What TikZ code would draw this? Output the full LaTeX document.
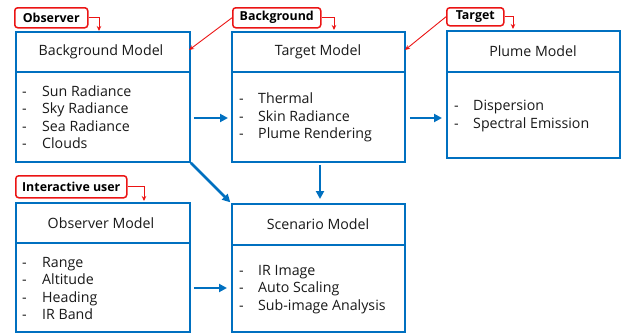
\documentclass[tikz,border=0pt]{standalone}
\usepackage{fontspec}
\setmainfont{Open Sans}
\usetikzlibrary{arrows.meta,calc}
\definecolor{mblue}{RGB}{0,112,192}
\definecolor{mred}{RGB}{235,20,20}
\definecolor{mtext}{RGB}{25,25,25}
\begin{document}
\begin{tikzpicture}[x=1pt,y=-1pt,
 modelbox/.style={draw=mblue, line width=1.8pt, anchor=north west, inner sep=0pt, fill=white},
 header/.style={font=\fontsize{14.2}{16}\selectfont, text=mtext, inner sep=0pt},
 items/.style={font=\fontsize{14.2}{17.5}\selectfont, align=left, anchor=west, inner sep=0pt, text=mtext},
 tag/.style={draw=mred, line width=1.5pt, rounded corners=3pt, fill=white, font=\bfseries\fontsize{12.4}{14}\selectfont, inner sep=0pt, anchor=north west, text=black},
 tagline/.style={draw=mred, line width=0.9pt, -{Stealth[length=5pt,width=4.5pt]}},
 flow/.style={draw=mblue, line width=2.5pt, -{Triangle[length=8pt,width=8pt]}},
 divider/.style={draw=mblue, line width=1.8pt}
]
\useasboundingbox (0,0) rectangle (621,332);

% model boxes
\node[modelbox, minimum width=174pt, minimum height=130pt] (bg) at (15,31) {};
\node[modelbox, minimum width=173pt, minimum height=130pt] (tg) at (231,31) {};
\node[modelbox, minimum width=173pt, minimum height=127pt] (pl) at (446,30) {};
\node[modelbox, minimum width=174pt, minimum height=129pt] (ob) at (15,202) {};
\node[modelbox, minimum width=173pt, minimum height=128pt] (sc) at (231,203) {};

% dividers
\draw[divider] ($(bg.north west)+(0,41)$) -- ($(bg.north east)+(0,41)$);
\draw[divider] ($(tg.north west)+(0,41)$) -- ($(tg.north east)+(0,41)$);
\draw[divider] ($(pl.north west)+(0,42)$) -- ($(pl.north east)+(0,42)$);
\draw[divider] ($(ob.north west)+(0,41)$) -- ($(ob.north east)+(0,41)$);
\draw[divider] ($(sc.north west)+(0,42)$) -- ($(sc.north east)+(0,42)$);

% headers
\node[header] (bgh) at (101,52) {Background Model};
\node[header] (tgh) at (318,52) {Target Model};
\node[header] (plh) at (533,51) {Plume Model};
\node[header] (obh) at (101,223) {Observer Model};
\node[header] (sch) at (318,224) {Scenario Model};

% items
\node[items] (bgi) at (22,117) {\makebox[20pt][l]{-}Sun Radiance\\\makebox[20pt][l]{-}Sky Radiance\\\makebox[20pt][l]{-}Sea Radiance\\\makebox[20pt][l]{-}Clouds};
\node[items] (tgi) at (239,117.5) {\makebox[19pt][l]{-}Thermal\\\makebox[19pt][l]{-}Skin Radiance\\\makebox[19pt][l]{-}Plume Rendering};
\node[items] (pli) at (454,116) {\makebox[19pt][l]{-}Dispersion\\\makebox[19pt][l]{-}Spectral Emission};
\node[items] (obi) at (22,288.5) {\makebox[20pt][l]{-}Range\\\makebox[20pt][l]{-}Altitude\\\makebox[20pt][l]{-}Heading\\\makebox[20pt][l]{-}IR Band};
\node[items] (sci) at (239,289.5) {\makebox[19pt][l]{-}IR Image\\\makebox[19pt][l]{-}Auto Scaling\\\makebox[19pt][l]{-}Sub-image Analysis};

% tags
\node[tag, minimum width=73pt, minimum height=20pt] (lobs) at (14,7) {Observer};
\node[tag, minimum width=88pt, minimum height=20pt] (lbg) at (232,7) {Background};
\node[tag, minimum width=57pt, minimum height=18pt] (ltg) at (446,7) {Target};
\node[tag, minimum width=111pt, minimum height=22pt] (lint) at (15,175) {Interactive user};

% tag connector ends
\coordinate (e1) at (99,31);
\coordinate (e2) at (334,30);
\coordinate (e3) at (513,29);
\coordinate (e4) at (144,201);
\coordinate (e5) at (189,50);
\coordinate (e6) at (405,50);

\draw[tagline] (lobs.east) -| (e1);
\draw[tagline] (lbg.east) -| (e2);
\draw[tagline] (ltg.east) -| (e3);
\draw[tagline] (lint.east) -| (e4);
\draw[tagline] (lbg.west) -- (e5);
\draw[tagline] (ltg.west) -- (e6);

% flow arrows
\coordinate (r1) at (0,118);
\coordinate (r2) at (0,288);
\coordinate (v1) at (320,0);
\draw[flow, shorten <=3pt, shorten >=3pt] (bg.east |- r1) -- (tg.west |- r1);
\draw[flow, shorten <=4pt, shorten >=4pt] (tg.east |- r1) -- (pl.west |- r1);
\draw[flow, shorten <=2pt, shorten >=4pt] (tg.south -| v1) -- (sc.north -| v1);
\draw[flow, shorten >=1pt] (bg.south east) -- (sc.north west);
\draw[flow, shorten <=3pt, shorten >=4pt] (ob.east |- r2) -- (sc.west |- r2);
\end{tikzpicture}
\end{document}
